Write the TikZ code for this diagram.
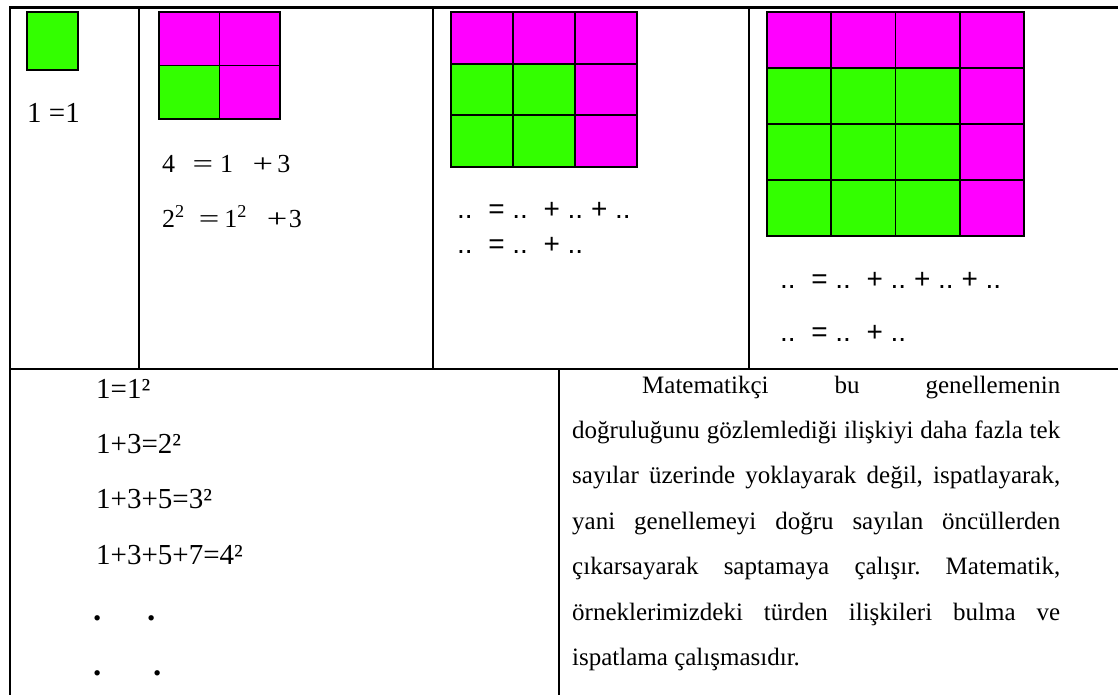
\documentclass[tikz,border=0pt]{standalone}
\usepackage{fontspec}
\setmainfont{Liberation Serif}
\newfontfamily\dotsfont{Liberation Sans}

\definecolor{sqgreen}{RGB}{51,255,0}
\definecolor{sqmagenta}{RGB}{255,0,255}

\tikzset{
  rule/.style={line width=2.2pt, line cap=rect},
  cellline/.style={line width=1.8pt, draw=black},
  txt/.style={inner sep=0pt, anchor=base west},
  bigserif/.style={txt, font=\fontsize{29}{34}\selectfont},
  midserif/.style={txt, font=\fontsize{26}{30}\selectfont},
  blank/.style={txt, font=\dotsfont\fontsize{28}{32}\selectfont},
  sumline/.style={txt, font=\fontsize{29}{34}\selectfont},
  dotmark/.style={txt, font=\bfseries\fontsize{33}{34}\selectfont},
}

% wide operator sign as set in the equations under the squares
\newcommand\wideop[1]{\scalebox{1.4}[1]{#1}}

% n x n square: top row and right column magenta, the rest green
\newcommand\gnomongrid[5]{% x0, y0, cell width, cell height, n
  \pgfmathtruncatemacro\gglast{#5-1}
  \foreach \r in {0,...,\gglast}{
    \foreach \c in {0,...,\gglast}{
      \pgfmathtruncatemacro\ggmag{and(or(\r==0,\c==\gglast),#5>1)}
      \ifnum\ggmag=1 \def\ggfill{sqmagenta}\else\def\ggfill{sqgreen}\fi
      \filldraw[cellline, fill=\ggfill] ({#1+\c*#3},{#2+\r*#4}) rectangle ++(#3,#4);
    }
  }
}

\begin{document}
\frenchspacing
\begin{tikzpicture}[x=1pt,y=-1pt]
\useasboundingbox (0,0) rectangle (1118,695);
\fill[white] (0,0) rectangle (1118,695);

% table rules
\draw[rule] (10,7.5) -- (1120,7.5);
\draw[rule] (10,7.5) -- (10,700);
\draw[rule] (10,369) -- (1120,369);
\draw[rule] (139,7.5) -- (139,369);
\draw[rule] (433,7.5) -- (433,369);
\draw[rule] (749,7.5) -- (749,369);
\draw[rule] (559,369) -- (559,700);

% squares
\gnomongrid{27}{12}{51}{58}{1}
\gnomongrid{159}{12}{60.5}{53.5}{2}
\gnomongrid{451}{12}{62}{51.7}{3}
\gnomongrid{767}{12}{64.25}{56}{4}

% equations under the squares
\node[bigserif] (one) at (27,123) {1 =1};
\node[midserif] (four) at (162,172)
  {4\hspace{17.5pt}\wideop{=}\hspace{7pt}1\hspace{19.5pt}\wideop{+}\hspace{4pt}3};
\node[midserif] (twosq) at (162,227)
  {2\textsuperscript{2}\hspace{14pt}\wideop{=}\hspace{5pt}1\textsuperscript{2}\hspace{20pt}\wideop{+}\hspace{1.5pt}3};
\node[blank] (nineA) at (457,218) {..\ \ = ..\ \ + .. + ..};
\node[blank] (nineB) at (457,253) {..\ \ = ..\ \ + ..};
\node[blank] (sixteenA) at (780,288) {..\ \ = ..\ \ + .. + .. + ..};
\node[blank] (sixteenB) at (780,341) {..\ \ = ..\ \ + ..};

% sums of odd numbers
\node[sumline] (s1) at (96,398) {1=1²};
\node[sumline] (s2) at (96,453) {1+3=2²};
\node[sumline] (s3) at (96,508) {1+3+5=3²};
\node[sumline] (s4) at (96,564) {1+3+5+7=4²};
\node[dotmark] (d1) at (93,620.5) {.};
\node[dotmark] (d2) at (147,620.5) {.};
\node[dotmark] (d3) at (93,675.5) {.};
\node[dotmark] (d4) at (153,675.5) {.};

% explanation
\node[txt] (para) at (572,393) {\parbox[t]{488pt}{\fontsize{25}{45.4}\selectfont
\hbadness=10000 \hspace*{70pt}Matematikçi bu genellemenin\linebreak
doğruluğunu gözlemlediği ilişkiyi daha fazla tek\linebreak
sayılar üzerinde yoklayarak değil, ispatlayarak,\linebreak
yani genellemeyi doğru sayılan öncüllerden\linebreak
çıkarsayarak saptamaya çalışır. Matematik,\linebreak
örneklerimizdeki türden ilişkileri bulma ve\linebreak
ispatlama çalışmasıdır.}};
\end{tikzpicture}
\end{document}
